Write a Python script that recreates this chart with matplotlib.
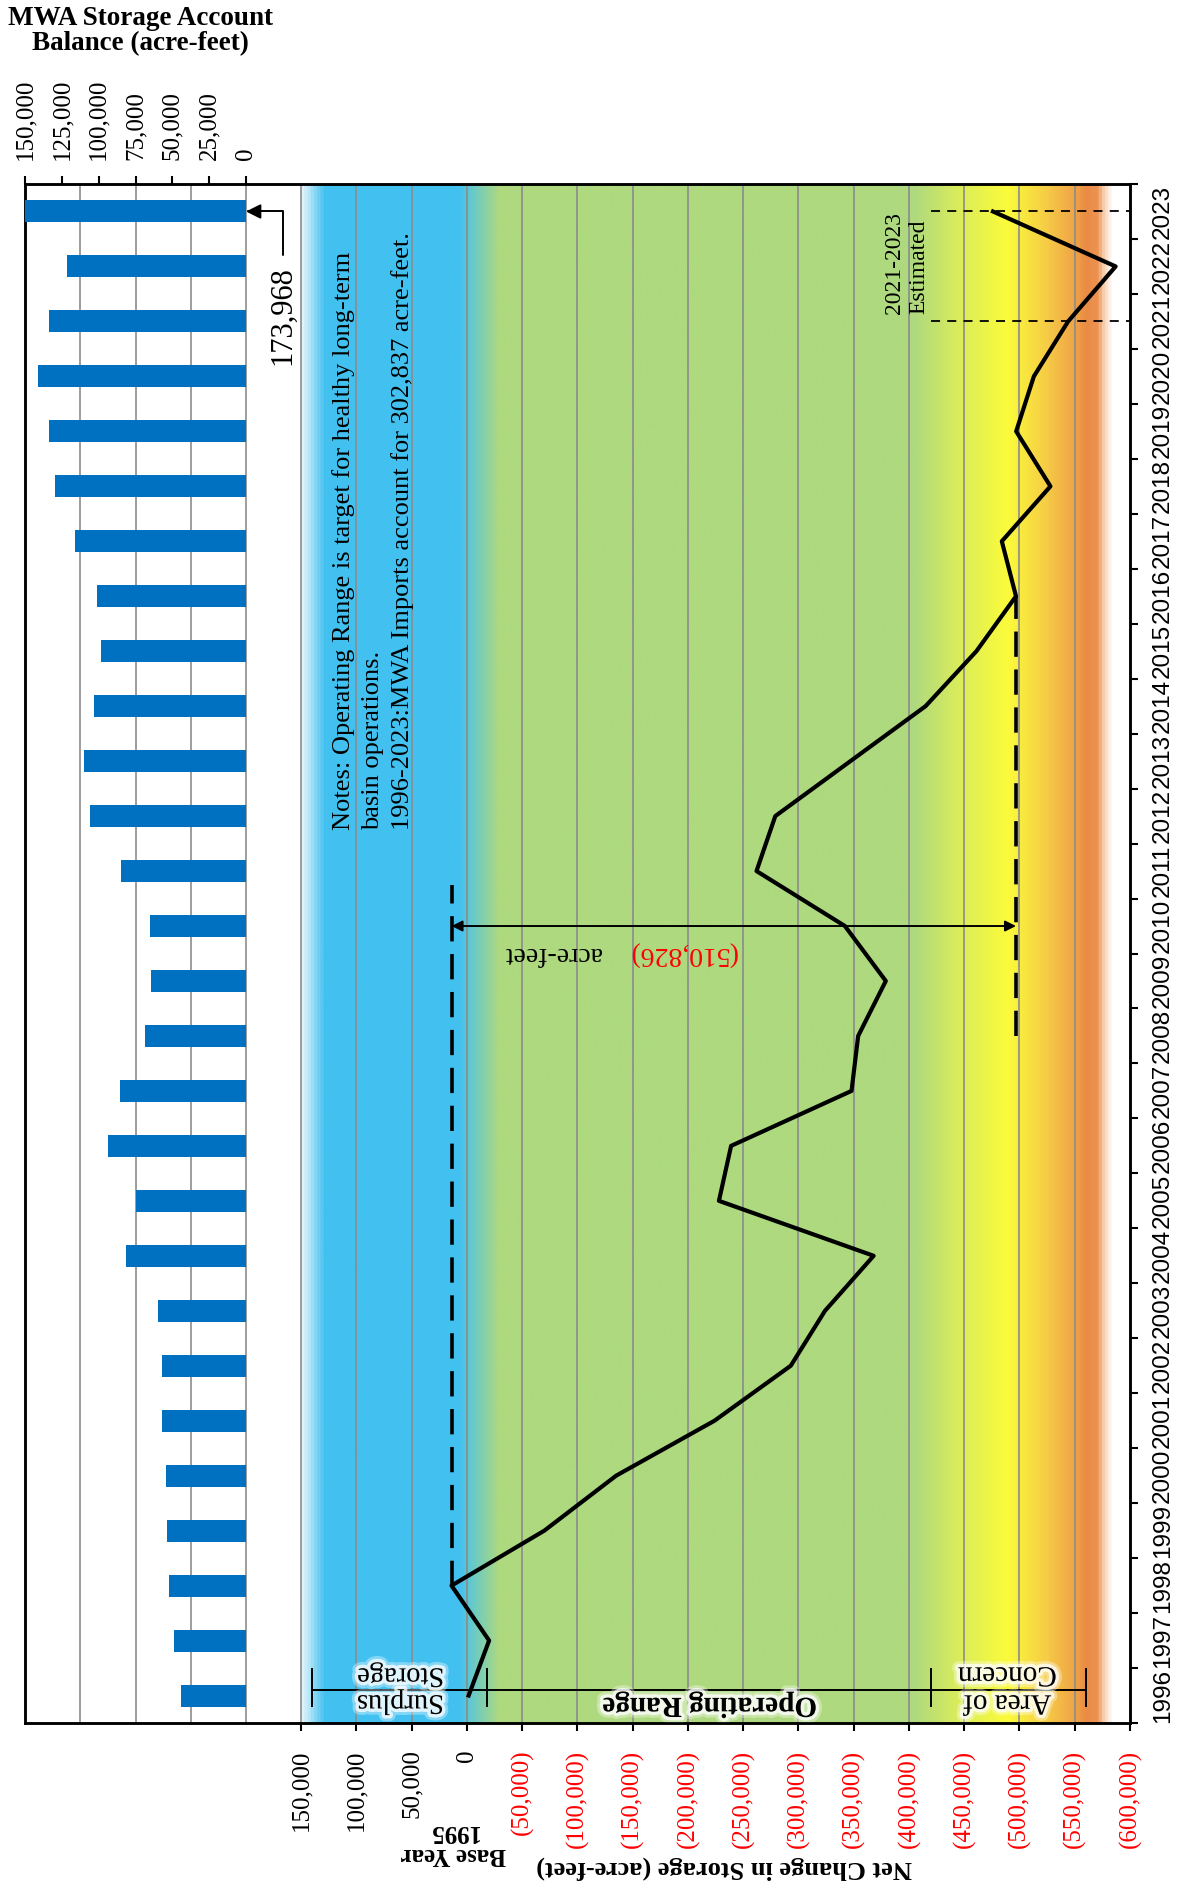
import matplotlib
matplotlib.use("Agg")
import matplotlib.pyplot as plt
import matplotlib.patheffects as pe
from matplotlib.colors import LinearSegmentedColormap
import numpy as np

plt.rcParams['font.family'] = ['Liberation Serif', 'DejaVu Serif']

# data
years = list(range(1996, 2024))
net_change = [-1500, -20000, 14000, -70000, -135000, -224000, -293000, -324000,
              -368000, -228000, -239000, -348000, -354000, -379000, -342000,
              -262000, -279000, -347000, -415000, -461000, -496826, -484000,
              -528000, -497000, -513000, -544000, -587000, -476000]
mwa_balance = [44000, 48900, 52200, 53800, 54600, 57000, 57000, 59500, 81500, 75000,
               93700, 85600, 68500, 64400, 65200, 84800, 106000, 110000, 103500,
               98600, 101100, 115800, 129600, 133700, 141000, 133700, 121500, 173968]
change_ticks = list(range(150000, -600001, -50000))
balance_ticks = list(range(0, 150001, 25000))
notes = ("Notes: Operating Range is target for healthy long-term\n"
         "basin operations.\n"
         "1996-2023:MWA Imports account for 302,837 acre-feet.")

W, H = 1177, 1885
fig = plt.figure(figsize=(W / 100, H / 100), dpi=100)
ax = fig.add_axes([25 / W, (H - 1723) / H, (1130 - 25) / W, (1723 - 184) / H])

# background zones
stops = [(150000, '#dff3fc'), (144000, '#b5e6f8'), (138000, '#7fd4f4'), (130000, '#42c1f0'),
         (8000, '#42c1f0'), (-28000, '#aed97f'), (-405000, '#aed97f'), (-445000, '#d9ec5b'),
         (-490000, '#fbfb3b'), (-525000, '#f6cd45'), (-552000, '#efa347'), (-562000, '#ea8b44'),
         (-572000, '#ec9352'), (-577000, '#f7caa6'), (-582000, '#fdeee4'), (-586000, '#ffffff')]
lo, hi = stops[0][0], stops[-1][0]
cmap = LinearSegmentedColormap.from_list(
    'zones', [((lo - v) / (lo - hi), c) for v, c in stops])
ax.imshow(np.linspace(0, 1, 1000).reshape(1, -1), cmap=cmap, aspect='auto',
          extent=(lo, hi, 1995.5, 2023.5), interpolation='bilinear', zorder=0)

for g in range(350000, -550001, -50000):
    ax.axvline(g, color='#8c8c8c', lw=1.2, zorder=1)

ax.set_xlim(400000, -600000)
ax.set_ylim(1995.5, 2023.5)

# main line
ax.plot(net_change, years, color='black', lw=3.0, zorder=6)

# range between 1998 and 2016
v98 = net_change[years.index(1998)]
v16 = net_change[years.index(2016)]
ax.plot([v98, v98], [1998, 2010.75], color='black', lw=2.6, ls=(0, (7, 3.5)), zorder=5)
ax.plot([v16, v16], [2008, 2016], color='black', lw=2.6, ls=(0, (7, 3.5)), zorder=5)
ax.annotate('', xy=(v16, 2010), xytext=(v98, 2010),
            arrowprops=dict(arrowstyle='<|-|>', color='black', lw=1.4,
                            mutation_scale=16, shrinkA=0, shrinkB=0), zorder=5)
diff = v98 - v16
ax.text(-195000, 2009.5, f"({diff:,})", rotation=180, color='red', fontsize=20,
        ha='center', va='center', zorder=7)
ax.text(-77000, 2009.5, "acre-feet", rotation=180, color='black', fontsize=20,
        ha='center', va='center', zorder=7)

# estimated years
for yr in (2021, 2023):
    ax.plot([-420000, -600000], [yr, yr], color='black', lw=1.3, ls=(0, (5, 4)), zorder=5)
ax.text(-398000, 2021.14, "2021-2023\nEstimated", rotation=90, fontsize=17,
        ha='center', va='bottom', multialignment='left', linespacing=1.2, zorder=7)

# notes
ax.text(85000, 2011.74, notes, rotation=90, fontsize=19, ha='center', va='bottom',
        multialignment='left', linespacing=1.4, zorder=7)

# range brackets
glow = [pe.Stroke(linewidth=9, foreground='white', alpha=0.35),
        pe.Stroke(linewidth=5, foreground='white', alpha=0.75), pe.Normal()]
ax.plot([140000, -560000], [1996.1, 1996.1], color='black', lw=1.4, zorder=5)
ax.vlines([140000, -18000, -420000, -560000], 1995.79, 1996.5, color='black', lw=1.4, zorder=5)
ax.text(60000, 1996.13, "Surplus\nStorage", rotation=180, fontsize=20.5, ha='center',
        va='center', linespacing=1.1, path_effects=glow, zorder=7)
ax.text(-220000, 1995.82, "Operating Range", rotation=180, fontsize=21, fontweight='bold',
        ha='center', va='center', path_effects=glow, zorder=7)
ax.text(-489000, 1996.13, "Area of\nConcern", rotation=180, fontsize=21, ha='center',
        va='center', linespacing=1.1, path_effects=glow, zorder=7)

# bottom axis
ax.set_xticks(change_ticks)
ax.set_xticklabels([f"{v:,}" if v >= 0 else f"({-v:,})" for v in change_ticks])
for lbl, v in zip(ax.get_xticklabels(), change_ticks):
    if v < 0:
        lbl.set_color('red')
ax.tick_params(axis='x', direction='out', length=6, width=1.5, pad=13,
               labelsize=18, labelrotation=90)

# year axis on the right
ax.yaxis.tick_right()
ax.set_yticks([y - 0.5 for y in years] + [years[-1] + 0.5])
ax.set_yticklabels([])
ax.set_yticks(years, minor=True)
ax.set_yticklabels([str(y) for y in years], minor=True, family=['Liberation Sans'])
ax.tick_params(axis='y', which='major', direction='out', length=6, width=1.5)
ax.tick_params(axis='y', which='minor', length=0, pad=16, labelsize=17.5, labelrotation=90)
for lbl in ax.get_yticklabels(minor=True):
    lbl.set_va('center')

for sp in ax.spines.values():
    sp.set_linewidth(1.8)

# MWA balance bars
ax2 = ax.twiny()
ax2.barh(years, mwa_balance, height=0.4, color='#0070c0', zorder=3)
ax2.set_xlim(150000, -600000)
ax2.set_xticks(balance_ticks)
ax2.set_xticklabels([f"{v:,}" for v in balance_ticks])
ax2.tick_params(axis='x', direction='out', length=6, width=1.5, pad=11,
                labelsize=18, labelrotation=90)
for sp in ax2.spines.values():
    sp.set_linewidth(1.8)

ax2.annotate('', xy=(0, years[-1]), xytext=(-25000, 2022.2),
             arrowprops=dict(arrowstyle='-|>', color='black', lw=1.4, mutation_scale=22,
                             shrinkA=0, shrinkB=0,
                             connectionstyle='angle,angleA=90,angleB=0,rad=0'))
ax2.text(-25000, 2021.1, f"{mwa_balance[-1]:,}", rotation=90, fontsize=22,
         ha='center', va='center')

# titles
fig.text(140 / W, 1 - 31 / H, "MWA Storage Account\nBalance (acre-feet)", ha='center',
         va='center', fontsize=19.5, fontweight='bold', linespacing=1.05)
fig.text(724 / W, 1 - 1868 / H, "Net Change in Storage (acre-feet)", rotation=180,
         ha='center', va='center', fontsize=19, fontweight='bold')
fig.text(453 / W, 1 - 1843 / H, "Base Year\n1995", rotation=180, ha='center',
         va='center', fontsize=18, fontweight='bold', linespacing=1.0)

fig.savefig("out.png", dpi=100)
